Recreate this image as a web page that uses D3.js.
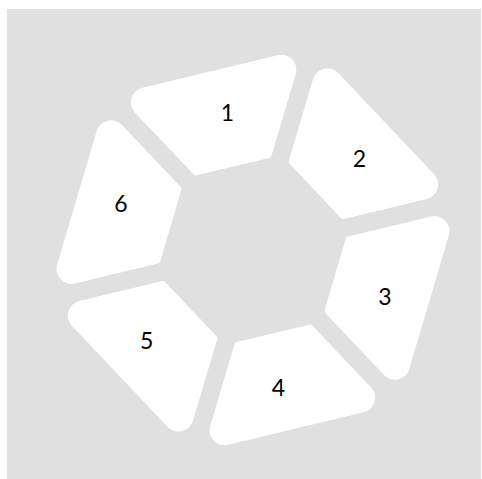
<!DOCTYPE html>
<html>
<head>
<meta charset="utf-8">
<script src="https://cdn.jsdelivr.net/npm/d3@7"></script>
<style>
  html, body { margin: 0; padding: 0; background: #fff; }
  svg { display: block; }
</style>
</head>
<body>
<div id="chart-container"></div>
<script>
// segment names and their (equal) shares
const categories = ["1", "2", "3", "4", "5", "6"];
const values = [1, 1, 1, 1, 1, 1];

const width = 482, height = 479;
const cx = 253, cy = 250;
const rOuter = 212, rInner = 99, gap = 18;
const cornerOut = 15, cornerIn = 3;
const rot = -43.5 * Math.PI / 180;

const svg = d3.select("#chart-container")
  .append("svg")
  .attr("width", width)
  .attr("height", height);

// gray panel
svg.append("rect")
  .attr("x", 7).attr("y", 9)
  .attr("width", 474).attr("height", 470)
  .attr("fill", "#e0e0e0");

const g = svg.append("g").attr("transform", `translate(${cx},${cy})`);

const pie = d3.pie().sort(null)
  .startAngle(rot)
  .endAngle(rot + 2 * Math.PI);

const arcs = pie(values).map((d, i) => ({...d, name: categories[i]}));

// pie angle -> unit vector (0 = up, clockwise)
const u = a => [Math.sin(a), -Math.cos(a)];
const sub = (p, q) => [p[0] - q[0], p[1] - q[1]];
const cross = (p, q) => p[0] * q[1] - p[1] * q[0];
function intersect(p, d, q, e) {
  const t = cross(sub(q, p), e) / cross(d, e);
  return [p[0] + t * d[0], p[1] + t * d[1]];
}

function segmentPath(d) {
  const a0 = d.startAngle, a1 = d.endAngle;
  const u0 = u(a0), u1 = u(a1);
  // radial edges pushed apart to leave a gap
  const q0 = [gap / 2 * Math.cos(a0), gap / 2 * Math.sin(a0)];
  const q1 = [-gap / 2 * Math.cos(a1), -gap / 2 * Math.sin(a1)];
  const P0 = [rOuter * u0[0], rOuter * u0[1]], P1 = [rOuter * u1[0], rOuter * u1[1]];
  const I0 = [rInner * u0[0], rInner * u0[1]], I1 = [rInner * u1[0], rInner * u1[1]];
  const oS = intersect(q0, u0, P0, sub(P1, P0));
  const oE = intersect(q1, u1, P0, sub(P1, P0));
  const iS = intersect(q0, u0, I0, sub(I1, I0));
  const iE = intersect(q1, u1, I0, sub(I1, I0));
  const m = [(oS[0] + iS[0]) / 2, (oS[1] + iS[1]) / 2];
  const p = d3.path();
  p.moveTo(m[0], m[1]);
  p.arcTo(oS[0], oS[1], oE[0], oE[1], cornerOut);
  p.arcTo(oE[0], oE[1], iE[0], iE[1], cornerOut);
  p.arcTo(iE[0], iE[1], iS[0], iS[1], cornerIn);
  p.arcTo(iS[0], iS[1], m[0], m[1], cornerIn);
  p.closePath();
  return p.toString();
}

g.selectAll("path.seg")
  .data(arcs)
  .join("path")
    .attr("class", "seg")
    .attr("d", segmentPath)
    .attr("fill", "#ffffff");

// labels
const labelR = 140, labelShift = 3 * Math.PI / 180;
g.selectAll("text.lbl")
  .data(arcs)
  .join("text")
    .attr("class", "lbl")
    .attr("x", d => labelR * Math.sin((d.startAngle + d.endAngle) / 2 + labelShift))
    .attr("y", d => -labelR * Math.cos((d.startAngle + d.endAngle) / 2 + labelShift))
    .attr("dy", "0.36em")
    .attr("text-anchor", "middle")
    .style("font-family", "Lato, 'Open Sans', sans-serif")
    .style("font-size", "23px")
    .style("fill", "#000")
    .text(d => d.name);
</script>
</body>
</html>
